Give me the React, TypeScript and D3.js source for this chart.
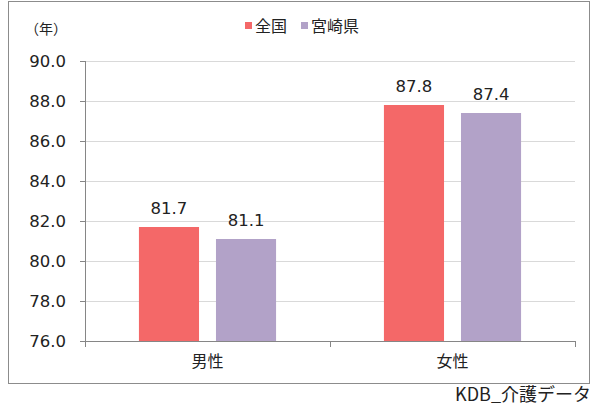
import React from "react";
import * as d3 from "d3";

const categories = ["男性", "女性"];
const seriesNames = ["全国", "宮崎県"];
const nationalValues = [81.7, 87.8];
const miyazakiValues = [81.1, 87.4];
const yTicks = [76, 78, 80, 82, 84, 86, 88, 90];
const colors = ["#F46868", "#B2A2C8"];

const W = 597;
const H = 408;
const FONT = "'Noto Sans CJK JP', 'Noto Sans', sans-serif";
const NUMFONT = "'DejaVu Sans', 'Noto Sans', sans-serif";

export default function App() {
  const left = 85;
  const right = 575;
  const top = 61;
  const bottom = 341;
  const y = d3.scaleLinear().domain([76, 90]).range([bottom, top]);
  const x0 = d3.scaleBand<string>().domain(categories).range([left, right]).padding(0);
  const x1 = d3
    .scaleBand<string>()
    .domain(seriesNames)
    .range([0, x0.bandwidth()])
    .paddingInner(0.22)
    .paddingOuter(0.7);
  const series = [nationalValues, miyazakiValues];

  return (
    <svg
      width={W}
      height={H}
      style={{ position: "absolute", left: 0, top: 0, background: "#fff" }}
      fontFamily={FONT}
    >
      <rect x={8.5} y={1.5} width={581} height={382} fill="#fff" stroke="#8C8C8C" strokeWidth={1} />
      {yTicks.map((t) => (
        <g key={t}>
          {t !== 76 && (
            <line x1={left} x2={right} y1={Math.round(y(t)) + 0.5} y2={Math.round(y(t)) + 0.5} stroke="#D9D9D9" />
          )}
          <line x1={left - 5} x2={left} y1={Math.round(y(t)) + 0.5} y2={Math.round(y(t)) + 0.5} stroke="#868686" />
          <text
            x={66}
            y={y(t)}
            textAnchor="end"
            dominantBaseline="central"
            fontSize={16.5}
            fontFamily={NUMFONT}
            fill="#222"
          >
            {t.toFixed(1)}
          </text>
        </g>
      ))}
      <line x1={left + 0.5} x2={left + 0.5} y1={top} y2={bottom} stroke="#868686" />
      <line x1={left} x2={right} y1={bottom + 0.5} y2={bottom + 0.5} stroke="#868686" />
      {[left, left + x0.bandwidth(), right].map((tx, i) => (
        <line key={i} x1={tx + 0.5} x2={tx + 0.5} y1={bottom} y2={bottom + 6} stroke="#868686" />
      ))}
      {categories.map((c, ci) => (
        <g key={c}>
          {seriesNames.map((s, si) => {
            const v = series[si][ci];
            const bx = (x0(c) as number) + (x1(s) as number);
            return (
              <g key={s}>
                <rect x={bx} y={y(v)} width={x1.bandwidth()} height={bottom - y(v)} fill={colors[si]} />
                <text
                  x={bx + x1.bandwidth() / 2}
                  y={y(v) - 13}
                  textAnchor="middle"
                  fontSize={16.5}
                  fontFamily={NUMFONT}
                  fill="#222"
                >
                  {v.toFixed(1)}
                </text>
              </g>
            );
          })}
          <text
            x={(x0(c) as number) + x0.bandwidth() / 2}
            y={367}
            textAnchor="middle"
            fontSize={16}
            fill="#222"
          >
            {c}
          </text>
        </g>
      ))}
      <text x={25} y={34} fontSize={14} fill="#222">（年）</text>
      {seriesNames.map((s, i) => {
        const lx = i === 0 ? 245 : 301;
        return (
          <g key={s}>
            <rect x={lx} y={22} width={7} height={7} fill={colors[i]} />
            <text x={lx + 10} y={32} fontSize={16} fill="#222">
              {s}
            </text>
          </g>
        );
      })}
      <text x={591} y={401} textAnchor="end" fontSize={18} fill="#222">
        KDB_介護データ
      </text>
    </svg>
  );
}
